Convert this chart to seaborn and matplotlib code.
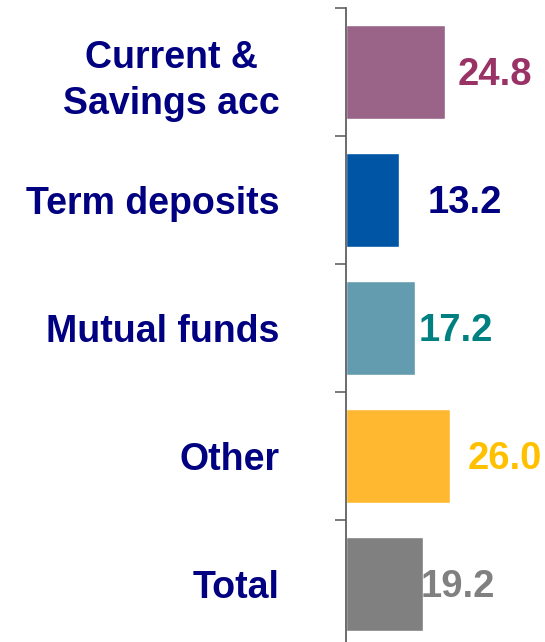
import matplotlib
matplotlib.use("Agg")
import matplotlib.pyplot as plt
import seaborn as sns
import pandas as pd

# data
categories = ["Current &\nSavings acc", "Term deposits", "Mutual funds", "Other", "Total"]
values = [24.8, 13.2, 17.2, 26.0, 19.2]
value_labels = ["24.8", "13.2", "17.2", "26.0", "19.2"]

# styles
bar_colors = ["#9A6488", "#0055A5", "#639CAF", "#FFB830", "#808080"]
label_colors = ["#993366", "#000080", "#008080", "#FFC000", "#808080"]
label_offsets = [3.0, 7.3, 1.0, 4.5, -0.6]  # gap from bar end, in data units

sns.set_style("white")
plt.rcParams["font.family"] = ["Liberation Sans", "DejaVu Sans"]

df = pd.DataFrame({"category": categories, "value": values})

fig = plt.figure(figsize=(5.45, 6.42), dpi=100)
ax = fig.add_axes([346 / 545, -6 / 642, 1 - 346 / 545, 640 / 642])

sns.barplot(data=df, x="value", y="category", hue="category",
            palette=bar_colors, orient="h", width=0.73,
            legend=False, saturation=1, ax=ax)

ax.set_xlim(0, (545 - 346) / 4)
ax.set_ylim(4.5, -0.5)

for i, (v, txt) in enumerate(zip(values, value_labels)):
    ax.text(v + label_offsets[i], i + 0.02, txt, ha="left", va="center",
            fontsize=27.5, fontweight="bold", color=label_colors[i])

# category labels as major ticks, boundary ticks as minor
ax.set_yticks(range(len(categories)))
ax.set_yticklabels(categories)
ax.set_yticks([-0.5, 0.5, 1.5, 2.5, 3.5], minor=True)
ax.tick_params(axis="y", which="major", length=0, pad=48)
ax.tick_params(axis="y", which="minor", length=8, width=1.3, color="#707070",
               direction="out", left=True)
for lab in ax.get_yticklabels():
    lab.set_fontsize(27)
    lab.set_fontweight("bold")
    lab.set_color("#000080")
    lab.set_multialignment("center")
    lab.set_linespacing(1.35)

ax.set_xticks([])
ax.set_xlabel("")
ax.set_ylabel("")
for side in ["top", "right", "bottom"]:
    ax.spines[side].set_visible(False)
ax.spines["left"].set_color("#606060")
ax.spines["left"].set_linewidth(1.3)

fig.savefig("out.png", dpi=100)
